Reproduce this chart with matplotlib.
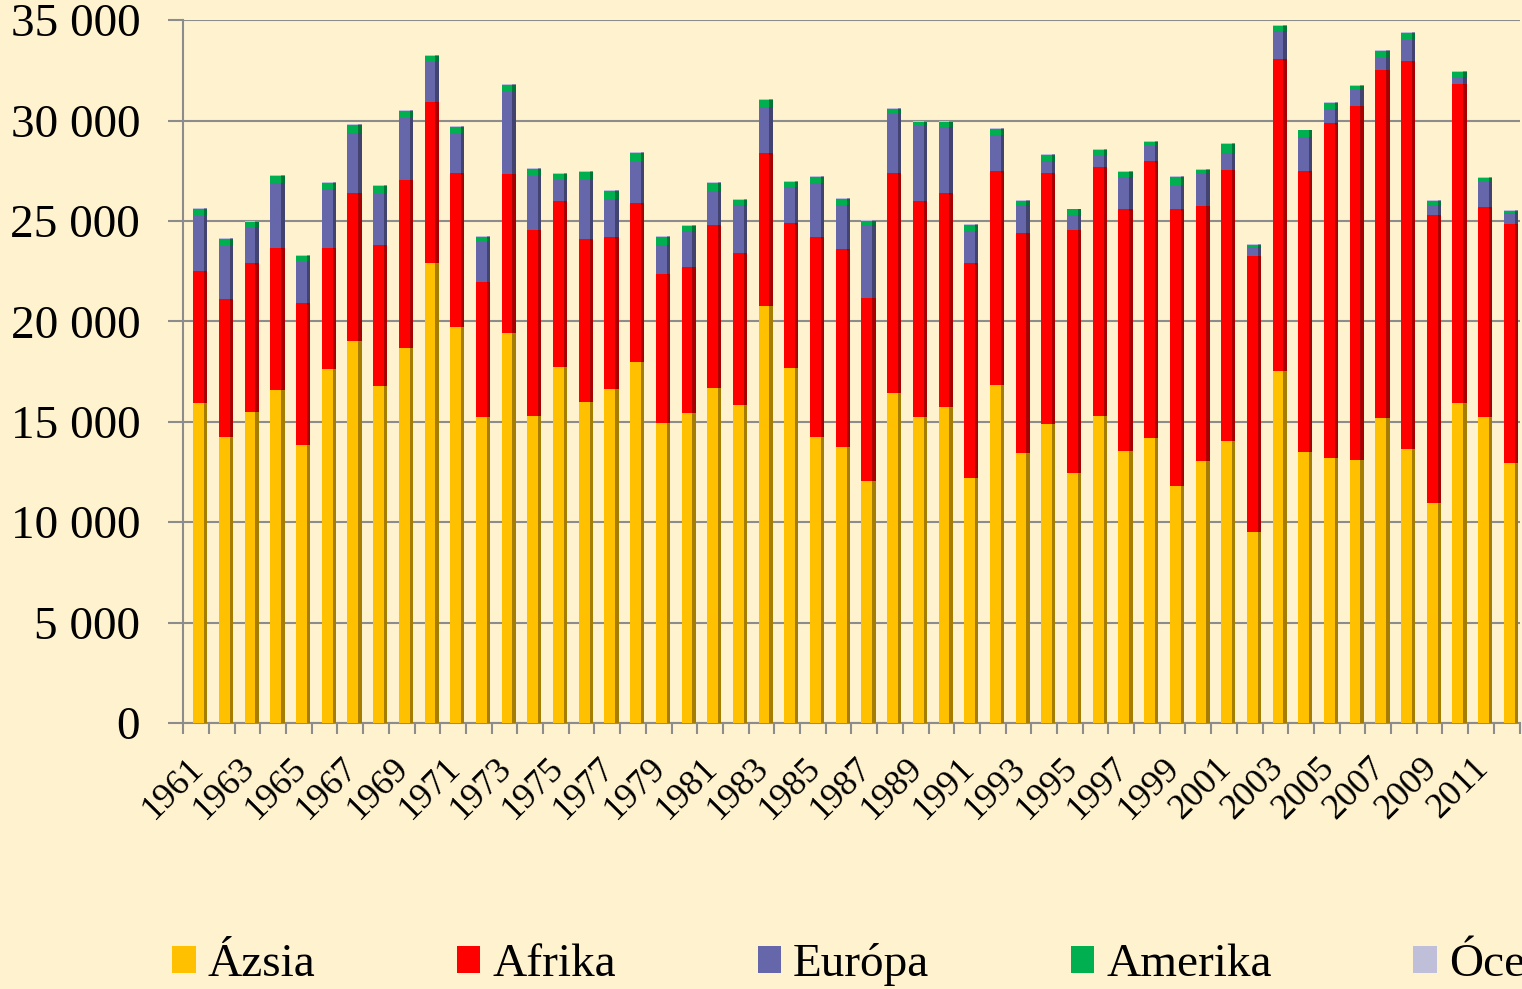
import matplotlib
matplotlib.use('Agg')
import matplotlib.pyplot as plt
import numpy as np
from matplotlib.patches import Patch
from matplotlib.ticker import FuncFormatter, MultipleLocator

plt.rcParams['font.family'] = ['Liberation Serif', 'DejaVu Serif']

years = list(range(1961, 2013))

# tonnes per region
azsia = [15920, 14260, 15500, 16580, 13840, 17610, 19040, 16780, 18660, 22920,
         19710, 15250, 19410, 15290, 17740, 15990, 16620, 17990, 14950, 15420,
         16670, 15850, 20770, 17680, 14230, 13760, 12070, 16450, 15220, 15750,
         12190, 16810, 13460, 14910, 12430, 15290, 13560, 14200, 11820, 13030,
         14060, 9510, 17510, 13510, 13200, 13100, 15190, 13630, 10960, 15910,
         15230, 12970]
afrika = [6600, 6860, 7390, 7060, 7060, 6060, 7340, 7020, 8380, 8000,
          7700, 6720, 7930, 9260, 8240, 8100, 7600, 7920, 7410, 7300,
          8120, 7540, 7600, 7240, 9960, 9830, 9080, 10960, 10760, 10660,
          10710, 10680, 10930, 12470, 12140, 12410, 12060, 13770, 13800, 12730,
          13480, 13750, 15560, 14000, 16700, 17620, 17350, 19320, 14340, 15890,
          10460, 11860]
europa = [2720, 2640, 1770, 3270, 2070, 2910, 3020, 2540, 3100, 2010,
          1930, 1990, 4070, 2700, 1060, 2950, 1860, 2040, 1440, 1780,
          1720, 2410, 2320, 1760, 2720, 2220, 3640, 2910, 3750, 3260,
          1620, 1790, 1410, 630, 740, 540, 1580, 750, 1140, 1580,
          850, 450, 1370, 1670, 680, 780, 570, 1050, 520, 350,
          1250, 590]
amerika = [380, 330, 300, 330, 280, 330, 370, 400, 330, 280,
           360, 250, 360, 350, 300, 400, 430, 420, 410, 250,
           370, 250, 330, 280, 300, 300, 230, 260, 200, 260,
           280, 310, 200, 280, 270, 300, 230, 210, 440, 210,
           460, 100, 280, 330, 300, 230, 370, 360, 170, 270,
           210, 90]
oceania = [40, 40, 50, 40, 40, 50, 40, 50, 40, 50,
           40, 40, 50, 40, 40, 50, 40, 50, 40, 40,
           50, 40, 40, 50, 40, 40, 50, 40, 40, 50,
           40, 40, 50, 40, 40, 50, 40, 40, 50, 40,
           40, 50, 40, 40, 50, 40, 40, 50, 40, 40,
           50, 40]

names = ['Ázsia', 'Afrika', 'Európa', 'Amerika', 'Óceánia']
series = [azsia, afrika, europa, amerika, oceania]
face_cols = ['#FFC000', '#FF0000', '#6666AA', '#00B050', '#BFBFDA']
side_cols = ['#A67D00', '#A80000', '#43436F', '#007535', '#8A8AA6']
bg = '#FFF2CE'
grid_col = '#8C8C8C'

fig = plt.figure(figsize=(15.22, 9.89), dpi=100)
fig.patch.set_facecolor(bg)
ax = fig.add_axes([0.1204, 0.269, 0.878, 0.7106])
ax.set_facecolor(bg)

x = np.arange(len(years))
bottom = np.zeros(len(years))
for vals, fc, sc in zip(series, face_cols, side_cols):
    vals = np.array(vals, dtype=float)
    # front face and a darker strip on the right as the bar's side
    ax.bar(x + 0.1, vals, width=0.42, bottom=bottom, color=fc, linewidth=0, zorder=3)
    ax.bar(x + 0.375, vals, width=0.13, bottom=bottom, color=sc, linewidth=0, zorder=3)
    bottom += vals

ax.set_xlim(-0.5, len(years) - 0.5)
ax.set_ylim(0, 35000)

ax.yaxis.set_major_locator(MultipleLocator(5000))
ax.yaxis.set_major_formatter(FuncFormatter(lambda v, p: '{:,}'.format(int(v)).replace(',', ' ')))
ax.yaxis.grid(True, color=grid_col, linewidth=1.5, zorder=0)
ax.set_axisbelow(True)

for s in ['top', 'right']:
    ax.spines[s].set_visible(False)
for s in ['left', 'bottom']:
    ax.spines[s].set_color(grid_col)
    ax.spines[s].set_linewidth(1.5)

ax.tick_params(axis='y', which='major', length=11, width=1.5, color=grid_col,
               pad=20, labelsize=34)

# labels every other year, boundary ticks between categories
lab_idx = x[::2]
ax.set_xticks(lab_idx + 0.1)
ax.set_xticklabels([str(years[i]) for i in lab_idx])
ax.set_xticks(np.arange(len(years) + 1) - 0.5, minor=True)
ax.tick_params(axis='x', which='major', length=0, pad=29, labelsize=26)
ax.tick_params(axis='x', which='minor', length=8, width=1.5, color=grid_col)
plt.setp(ax.get_xticklabels(), rotation=45, ha='right', va='center',
         rotation_mode='anchor')

handles = [Patch(facecolor=c, edgecolor='none', label=n) for c, n in zip(face_cols, names)]
fig.legend(handles=handles, ncol=5, loc='center left',
           bbox_to_anchor=(172 / 1522, 1 - 965 / 989), frameon=False,
           fontsize=34, handlelength=0.5, handleheight=0.5, handletextpad=0.25,
           columnspacing=3.0, borderpad=0, borderaxespad=0)

fig.savefig('out.png', dpi=100, facecolor=bg)
